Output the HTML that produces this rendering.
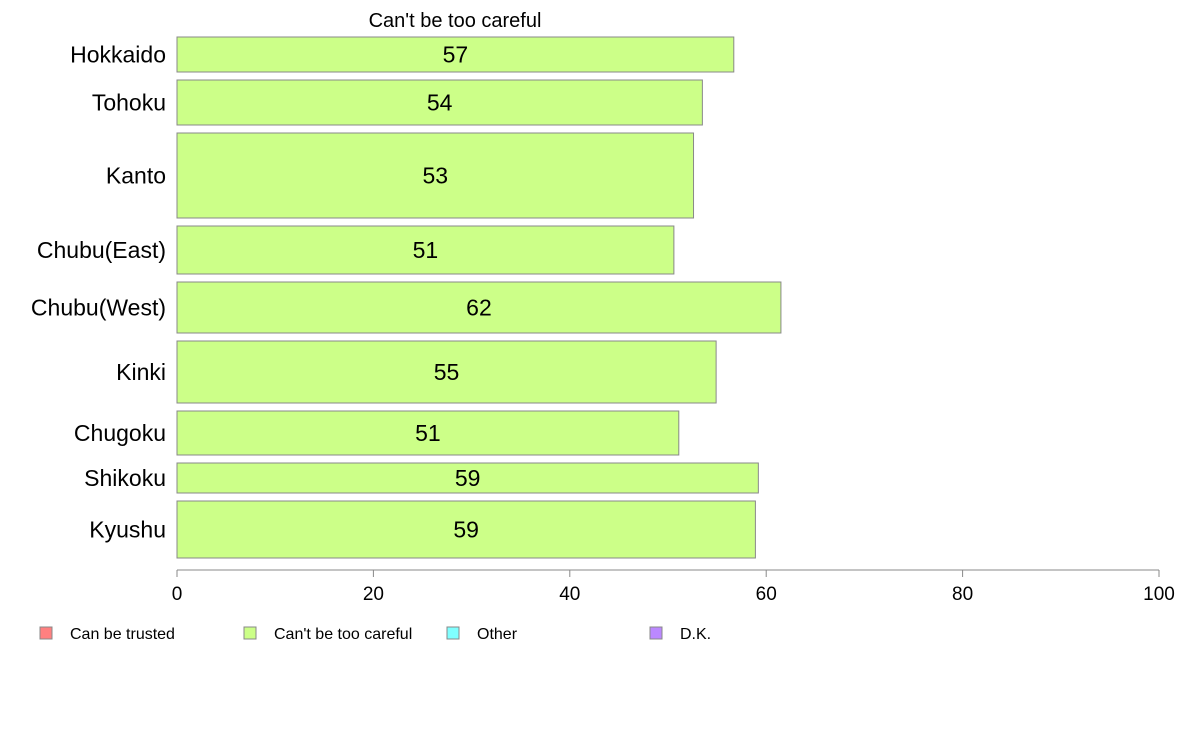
<!DOCTYPE html>
<html><head><meta charset="utf-8"><style>
body{margin:0;background:#fff;font-family:"Liberation Sans",Arial,sans-serif}
svg{display:block}
</style></head><body>
<svg id="chart" width="1188" height="736" xmlns="http://www.w3.org/2000/svg">
<text x="455" y="27" font-size="20" text-anchor="middle">Can't be too careful</text>
<g id="bars"></g>
<g id="axis"></g>
<g id="legend"></g>
</svg>
<script>
const categories=["Hokkaido","Tohoku","Kanto","Chubu(East)","Chubu(West)","Kinki","Chugoku","Shikoku","Kyushu"];
const values=[56.7,53.5,52.6,50.6,61.5,54.9,51.1,59.2,58.9];
const weights=[35,45,85,48,51,62,44,30,57];
const ticks=[0,20,40,60,80,100];
const legendLabels=["Can be trusted","Can't be too careful","Other","D.K."];
const legendColors=["#ff8080","#ccff88","#80ffff","#bb88ff"];
const NS="http://www.w3.org/2000/svg";
const x0=177,x1=1159,top0=37,bot=558,gap=8;
const xs=v=>x0+(x1-x0)*v/100;
const totalW=weights.reduce((a,b)=>a+b,0);
const unit=(bot-top0-gap*(categories.length-1))/totalW;
function mk(t,a){const e=document.createElementNS(NS,t);for(const k in a)e.setAttribute(k,a[k]);return e;}
const gB=document.getElementById('bars');
let y=top0;
categories.forEach((c,i)=>{
  const h=weights[i]*unit;
  const r=mk('rect',{x:x0,y:y,width:xs(values[i])-x0,height:h,fill:'#ccff88',stroke:'#888','stroke-width':1});
  
  
  gB.appendChild(r);
  const t=mk('text',{x:(x0+xs(values[i]))/2,y:y+h/2+8,'font-size':23,'text-anchor':'middle'});
  t.textContent=Math.round(values[i]);
  
  
  gB.appendChild(t);
  const l=mk('text',{x:166,y:y+h/2+8,'font-size':23,'text-anchor':'end'});
  l.textContent=c;
  
  
  gB.appendChild(l);
  y+=h+gap;
});
const gA=document.getElementById('axis');
const al=mk('line',{x1:x0,x2:x1,y1:570,y2:570,stroke:'#888'});


gA.appendChild(al);
ticks.forEach(v=>{
  const tk=mk('line',{x1:xs(v),x2:xs(v),y1:570,y2:577,stroke:'#888'});
  
  
  gA.appendChild(tk);
  const tl=mk('text',{x:xs(v),y:600,'font-size':19,'text-anchor':'middle'});
  tl.textContent=v;
  
  
  gA.appendChild(tl);
});
const gL=document.getElementById('legend');
const lx=[40,244,447,650];
legendLabels.forEach((s,i)=>{
  const r=mk('rect',{x:lx[i],y:627,width:12,height:12,fill:legendColors[i],stroke:'#888'});
  
  
  gL.appendChild(r);
  const t=mk('text',{x:lx[i]+30,y:639,'font-size':16});
  t.textContent=s;
  
  
  gL.appendChild(t);
});
</script>
</body></html>
